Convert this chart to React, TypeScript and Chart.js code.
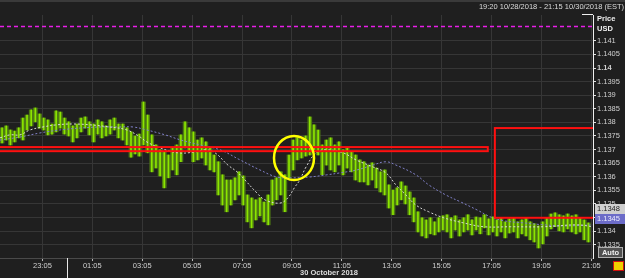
import React, { useEffect, useRef } from 'react';
import { Chart, registerables } from 'chart.js';

Chart.register(...registerables);

const RANGE_TITLE = '19:20 10/28/2018 - 21:15 10/30/2018 (EST)';
const DATE_LABEL = '30 October 2018';
const AXIS_TITLE = ['Price', 'USD'];
const LAST_PRICES = ['1.1348', '1.1345'];

// time axis: minutes since 21:23
const X_MIN = 0;
const X_MAX = 1426;
const xTickMinutes = [102, 222, 342, 462, 582, 702, 822, 942, 1062, 1182, 1302, 1422];
const xTickLabels = ['23:05', '01:05', '03:05', '05:05', '07:05', '09:05', '11:05', '13:05', '15:05', '17:05', '19:05', '21:05'];
const MIDNIGHT_MIN = 160;

const Y_MIN = 1.13301;
const Y_MAX = 1.14195;
const yTickValues = [1.1335, 1.134, 1.1345, 1.135, 1.1355, 1.136, 1.1365, 1.137, 1.1375, 1.138, 1.1385, 1.139, 1.1395, 1.14, 1.1405, 1.141];
const BOLD_TICK = 1.14;

const FIRST_BAR_MIN = 5;
const BAR_MINUTES = 10;
const barHigh = [
  1.13780, 1.13787, 1.13772, 1.13768, 1.13780, 1.13816, 1.13827, 1.13846, 1.13853, 1.13831,
  1.13816, 1.13809, 1.13794, 1.13842, 1.13838, 1.13816, 1.13802, 1.13787, 1.13794, 1.13816,
  1.13820, 1.13802, 1.13794, 1.13809, 1.13802, 1.13787, 1.13809, 1.13816, 1.13794, 1.13794,
  1.13780, 1.13765, 1.13750, 1.13757, 1.13875, 1.13827, 1.13754, 1.13717, 1.13699, 1.13691,
  1.13680, 1.13706, 1.13717, 1.13754, 1.13802, 1.13780, 1.13765, 1.13735, 1.13743, 1.13728,
  1.13706, 1.13680, 1.13655, 1.13607, 1.13588, 1.13588, 1.13596, 1.13618, 1.13603, 1.13533,
  1.13522, 1.13515, 1.13522, 1.13507, 1.13533, 1.13588, 1.13596, 1.13618, 1.13607, 1.13680,
  1.13735, 1.13743, 1.13735, 1.13750, 1.13820, 1.13791, 1.13772, 1.13717, 1.13735, 1.13743,
  1.13717, 1.13728, 1.13699, 1.13706, 1.13691, 1.13680, 1.13662, 1.13655, 1.13643, 1.13651,
  1.13632, 1.13618, 1.13625, 1.13570, 1.13551, 1.13559, 1.13581, 1.13566, 1.13544, 1.13522,
  1.13471, 1.13449, 1.13441, 1.13449, 1.13434, 1.13449, 1.13456, 1.13460, 1.13449, 1.13456,
  1.13441, 1.13449, 1.13460, 1.13441, 1.13452, 1.13449, 1.13460, 1.13445, 1.13452, 1.13441,
  1.13449, 1.13434, 1.13445, 1.13449, 1.13434, 1.13441, 1.13449, 1.13434, 1.13427, 1.13419,
  1.13434, 1.13449, 1.13463, 1.13467, 1.13460, 1.13456, 1.13463, 1.13456, 1.13460, 1.13449,
  1.13441, 1.13430,
];
const barLow = [
  1.13724, 1.13735, 1.13717, 1.13728, 1.13743, 1.13735, 1.13772, 1.13787, 1.13802, 1.13779,
  1.13772, 1.13754, 1.13757, 1.13765, 1.13779, 1.13757, 1.13750, 1.13728, 1.13743, 1.13765,
  1.13779, 1.13754, 1.13728, 1.13757, 1.13743, 1.13750, 1.13757, 1.13772, 1.13743, 1.13735,
  1.13717, 1.13672, 1.13684, 1.13676, 1.13717, 1.13688, 1.13618, 1.13632, 1.13603, 1.13559,
  1.13596, 1.13625, 1.13607, 1.13655, 1.13706, 1.13691, 1.13655, 1.13662, 1.13669, 1.13643,
  1.13625, 1.13618, 1.13533, 1.13496, 1.13471, 1.13496, 1.13515, 1.13533, 1.13496, 1.13434,
  1.13412, 1.13441, 1.13456, 1.13434, 1.13423, 1.13496, 1.13515, 1.13533, 1.13471, 1.13596,
  1.13625, 1.13662, 1.13669, 1.13676, 1.13680, 1.13699, 1.13680, 1.13607, 1.13643, 1.13625,
  1.13618, 1.13643, 1.13607, 1.13632, 1.13618, 1.13588, 1.13581, 1.13581, 1.13570, 1.13588,
  1.13559, 1.13544, 1.13533, 1.13485, 1.13460, 1.13496, 1.13515, 1.13500, 1.13460, 1.13434,
  1.13397, 1.13382, 1.13375, 1.13390, 1.13386, 1.13397, 1.13404, 1.13397, 1.13375, 1.13404,
  1.13382, 1.13397, 1.13404, 1.13386, 1.13404, 1.13390, 1.13412, 1.13386, 1.13397, 1.13382,
  1.13397, 1.13375, 1.13393, 1.13397, 1.13375, 1.13390, 1.13382, 1.13368, 1.13360, 1.13338,
  1.13353, 1.13382, 1.13408, 1.13416, 1.13401, 1.13397, 1.13408, 1.13397, 1.13390, 1.13397,
  1.13368, 1.13360,
];

const maFastTime = [0, 24, 48, 72, 103, 137, 175, 216, 264, 305, 337, 353, 385, 428, 469, 493, 517, 548, 570, 589, 618, 637, 673, 692, 709, 721, 736, 760, 784, 825, 856, 897, 928, 952, 976, 1000, 1031, 1067, 1115, 1164, 1228, 1308, 1387, 1426];
const maFastPrice = [1.13743, 1.13754, 1.13754, 1.13772, 1.13783, 1.13791, 1.13794, 1.13791, 1.13783, 1.13772, 1.13746, 1.13728, 1.13706, 1.13688, 1.13691, 1.13699, 1.13688, 1.13643, 1.13618, 1.13588, 1.13540, 1.13515, 1.13503, 1.13522, 1.13562, 1.13588, 1.13636, 1.13688, 1.13699, 1.13688, 1.13662, 1.13636, 1.13614, 1.13570, 1.13533, 1.13496, 1.13471, 1.13449, 1.13430, 1.13416, 1.13416, 1.13416, 1.13423, 1.13416];
const maSlowTime = [0, 48, 96, 144, 192, 240, 288, 320, 353, 397, 435, 481, 529, 577, 625, 666, 704, 745, 786, 817, 858, 897, 928, 952, 1000, 1031, 1072, 1108, 1147, 1180, 1212, 1260, 1308, 1356, 1426];
const maSlowPrice = [1.13735, 1.13746, 1.13761, 1.13772, 1.13779, 1.13783, 1.13783, 1.13783, 1.13772, 1.13754, 1.13735, 1.13717, 1.13699, 1.13662, 1.13625, 1.13599, 1.13596, 1.13599, 1.13607, 1.13614, 1.13625, 1.13643, 1.13655, 1.13643, 1.13607, 1.13570, 1.13533, 1.13507, 1.13478, 1.13452, 1.13438, 1.13430, 1.13423, 1.13419, 1.13423];

const ALERT_LEVEL = 1.14154;
const bandStart = -40;
const bandEnd = 1173;
const bandTop = 1.13709;
const bandBottom = 1.13694;
const boxStart = 1190;
const boxEnd = 1600;
const boxTop = 1.13779;
const boxBottom = 1.13449;
const circleTime = 707;
const circlePrice = 1.13669;

const FONT = '"Liberation Sans", Arial, sans-serif';

const overlayPlugin = {
  id: 'overlay',
  afterDatasetsDraw(chart: any) {
    const { ctx, chartArea: a, scales } = chart;
    const x = scales.x;
    const y = scales.y;
    ctx.save();
    ctx.beginPath();
    ctx.rect(a.left, a.top, a.right - a.left, a.bottom - a.top);
    ctx.clip();
    ctx.strokeStyle = '#e81ee8';
    ctx.lineWidth = 1.5;
    ctx.setLineDash([4, 3]);
    const ya = Math.round(y.getPixelForValue(ALERT_LEVEL)) + 0.5;
    ctx.beginPath();
    ctx.moveTo(a.left, ya);
    ctx.lineTo(a.right, ya);
    ctx.stroke();
    ctx.setLineDash([]);
    ctx.strokeStyle = '#ff1010';
    ctx.lineWidth = 2;
    const bx0 = x.getPixelForValue(bandStart);
    const bx1 = x.getPixelForValue(bandEnd);
    const by0 = y.getPixelForValue(bandTop);
    const by1 = y.getPixelForValue(bandBottom);
    ctx.strokeRect(bx0, by0, bx1 - bx0, by1 - by0);
    const rx0 = x.getPixelForValue(boxStart);
    const rx1 = x.getPixelForValue(boxEnd);
    const ry0 = y.getPixelForValue(boxTop);
    const ry1 = y.getPixelForValue(boxBottom);
    ctx.strokeRect(rx0, ry0, rx1 - rx0, ry1 - ry0);
    ctx.strokeStyle = '#ffff00';
    ctx.lineWidth = 2.5;
    ctx.beginPath();
    ctx.ellipse(x.getPixelForValue(circleTime), y.getPixelForValue(circlePrice), 20, 22, 0, 0, Math.PI * 2);
    ctx.stroke();
    ctx.restore();
    ctx.save();
    ctx.strokeStyle = '#e8e8e8';
    ctx.lineWidth = 1;
    const mx = Math.round(x.getPixelForValue(MIDNIGHT_MIN)) + 0.5;
    ctx.beginPath();
    ctx.moveTo(mx, a.bottom);
    ctx.lineTo(mx, chart.height);
    ctx.stroke();
    ctx.restore();
  },
};

export default function App() {
  const ref = useRef<HTMLCanvasElement | null>(null);

  useEffect(() => {
    if (!ref.current) return;
    const bars = barHigh.map((h, i) => ({ x: FIRST_BAR_MIN + i * BAR_MINUTES, y: [barLow[i], h] }));
    const fast = maFastTime.map((t, i) => ({ x: t, y: maFastPrice[i] }));
    const slow = maSlowTime.map((t, i) => ({ x: t, y: maSlowPrice[i] }));
    const chart = new Chart(ref.current, {
      type: 'bar',
      data: {
        datasets: [
          {
            type: 'line',
            data: fast,
            borderColor: '#d8d8d8',
            borderWidth: 1,
            borderDash: [2, 2],
            pointRadius: 0,
            tension: 0.4,
            order: 0,
          } as any,
          {
            type: 'line',
            data: slow,
            borderColor: '#8080c8',
            borderWidth: 1,
            borderDash: [2, 2],
            pointRadius: 0,
            tension: 0.4,
            order: 0,
          } as any,
          {
            type: 'bar',
            data: bars,
            backgroundColor: '#8ce600',
            barThickness: 1,
            borderSkipped: false,
            order: 1,
          } as any,
          {
            type: 'bar',
            data: bars,
            backgroundColor: '#4e7a12',
            barThickness: 4,
            borderSkipped: false,
            grouped: false,
            order: 2,
          } as any,
        ],
      },
      options: {
        animation: false,
        responsive: false,
        devicePixelRatio: 1,
        layout: { padding: { top: 15, left: 0, right: 0, bottom: 0 } },
        plugins: { legend: { display: false }, tooltip: { enabled: false } },
        datasets: { bar: { grouped: false } } as any,
        scales: {
          x: {
            type: 'linear',
            min: X_MIN,
            max: X_MAX,
            offset: false,
            afterBuildTicks: (s: any) => {
              s.ticks = xTickMinutes.map((v) => ({ value: v }));
            },
            afterFit: (s: any) => {
              s.height = 20;
            },
            grid: { color: '#363636', tickColor: '#bbbbbb', tickLength: 3, offset: false },
            border: { color: '#4a4a4a' },
            ticks: {
              autoSkip: false,
              maxRotation: 0,
              padding: 0,
              color: '#d0d0d0',
              font: { family: FONT, size: 7.5 },
              callback: (_v: any, i: number) => xTickLabels[i],
            },
          },
          y: {
            type: 'linear',
            position: 'right',
            min: Y_MIN,
            max: Y_MAX,
            afterBuildTicks: (s: any) => {
              s.ticks = yTickValues.map((v) => ({ value: v }));
            },
            afterFit: (s: any) => {
              s.width = 32;
            },
            grid: { color: '#363636', tickColor: '#e0e0e0', tickLength: 3 },
            border: { color: '#f0f0f0', width: 1 },
            ticks: {
              padding: 1,
              color: '#d0d0d0',
              font: (c: any) => ({ family: FONT, size: 7.5, weight: c.tick && c.tick.value === BOLD_TICK ? 'bold' : 'normal' }),
              callback: (v: any) => String(v),
            },
          },
        },
      },
      plugins: [overlayPlugin],
    });
    return () => chart.destroy();
  }, []);

  const txt: React.CSSProperties = { position: 'absolute', fontFamily: FONT, fontSize: 7.5, lineHeight: '10px', whiteSpace: 'nowrap' };

  return (
    <div style={{ position: 'fixed', left: 0, top: 0, width: 625, height: 278, background: '#1f1f1f', overflow: 'hidden' }}>
      <div style={{ position: 'absolute', left: 0, top: 0, width: 625, height: 2, background: '#3a3a3a' }} />
      <canvas ref={ref} width={625} height={278} style={{ position: 'absolute', left: 0, top: 0, display: 'block' }} />
      <div style={{ ...txt, right: 1, top: 2, color: '#dcdcdc' }}>{RANGE_TITLE}</div>
      <div style={{ position: 'absolute', left: 582, top: 14, width: 11, height: 1, background: '#f0f0f0' }} />
      <div style={{ ...txt, left: 597, top: 14, color: '#f0f0f0', fontWeight: 'bold' }}>{AXIS_TITLE[0]}</div>
      <div style={{ ...txt, left: 597, top: 24, color: '#f0f0f0', fontWeight: 'bold' }}>{AXIS_TITLE[1]}</div>
      <div style={{ ...txt, left: 595, top: 204, width: 30, height: 10, background: '#cfcfcf', color: '#202020', paddingLeft: 2 }}>{LAST_PRICES[0]}</div>
      <div style={{ ...txt, left: 595, top: 214, width: 30, height: 10, background: '#6c6cc8', color: '#eeeeff', paddingLeft: 2 }}>{LAST_PRICES[1]}</div>
      <div style={{ ...txt, left: 598, top: 247, width: 23, height: 9, lineHeight: '9px', background: '#505050', border: '1px solid #b0b0b0', color: '#f0f0f0', fontWeight: 'bold', textAlign: 'center' }}>Auto</div>
      <div style={{ position: 'absolute', left: 613, top: 261, width: 9, height: 8, background: '#f0d000', border: '1px solid #d01010' }} />
      <div style={{ ...txt, left: 300, top: 268, color: '#dcdcdc', fontWeight: 'bold' }}>{DATE_LABEL}</div>
    </div>
  );
}
